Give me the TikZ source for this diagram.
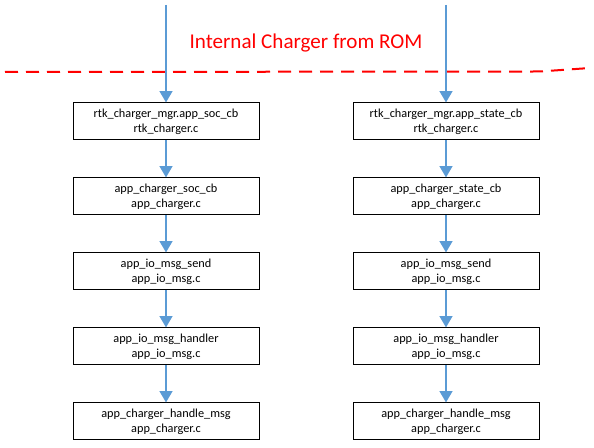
\documentclass[tikz,border=0pt]{standalone}
\usepackage{fontspec}
\setmainfont{Carlito}
\usepackage{tikz}
\usetikzlibrary{arrows.meta}
\definecolor{flowblue}{RGB}{91,155,213}
\tikzset{>={Triangle[width=9.5pt,length=8.5pt]}}
\tikzset{
  fbox/.style={draw=black, line width=0.75pt, fill=white, minimum width=139.5pt,
    minimum height=27.75pt, inner sep=0pt, align=center, font=\fontsize{9.2}{11}\selectfont},
  flow/.style={->, draw=flowblue, line width=1.5pt},
  romline/.style={draw=red, line width=1.5pt, dash pattern=on 9.75pt off 6pt}
}

\begin{document}
\begin{tikzpicture}[x=0.75pt, y=-0.75pt]
            \useasboundingbox (0,0) rectangle (594,448);

            % ROM border
            \draw[romline] (5,72) -- (540,71.5) -- (590,68);
            \node[text=red, font=\fontsize{15.8}{18}\selectfont] (rom) at (306,43) {Internal Charger from ROM};

            % left chain
            \coordinate (lt) at (166,5);
            \node[fbox] (l1) at (166,121.5) {rtk\_charger\_mgr.app\_soc\_cb\\rtk\_charger.c};
            \node[fbox] (l2) at (166,196.5) {app\_charger\_soc\_cb\\app\_charger.c};
            \node[fbox] (l3) at (166,271.5) {app\_io\_msg\_send\\app\_io\_msg.c};
            \node[fbox] (l4) at (166,346.5) {app\_io\_msg\_handler\\app\_io\_msg.c};
            \node[fbox] (l5) at (166,421.5) {app\_charger\_handle\_msg\\app\_charger.c};

            % right chain
            \coordinate (rt) at (446,5);
            \node[fbox] (r1) at (446,121.5) {rtk\_charger\_mgr.app\_state\_cb\\rtk\_charger.c};
            \node[fbox] (r2) at (446,196.5) {app\_charger\_state\_cb\\app\_charger.c};
            \node[fbox] (r3) at (446,271.5) {app\_io\_msg\_send\\app\_io\_msg.c};
            \node[fbox] (r4) at (446,346.5) {app\_io\_msg\_handler\\app\_io\_msg.c};
            \node[fbox] (r5) at (446,421.5) {app\_charger\_handle\_msg\\app\_charger.c};

            % arrows
            \draw[flow] (lt) -- (l1.north);
            \draw[flow] (rt) -- (r1.north);
            \foreach \i/\j in {1/2,2/3,3/4,4/5}{
              \draw[flow] (l\i.south) -- (l\j.north);
              \draw[flow] (r\i.south) -- (r\j.north);
            }
        \end{tikzpicture}
\end{document}
